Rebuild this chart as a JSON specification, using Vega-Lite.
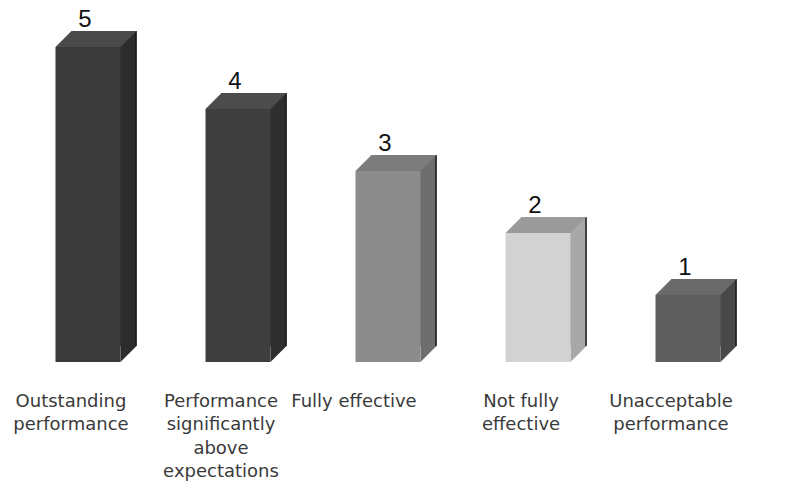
{
  "$schema": "https://vega.github.io/schema/vega-lite/v6.json",
  "autosize": {"type": "none"},
  "width": 750,
  "height": 315,
  "padding": {"left": 13, "top": 47, "right": 29, "bottom": 131},
  "background": "white",
  "config": {"view": {"stroke": null}},
  "data": {
    "values": [
      {"rating": "Outstanding\nperformance", "score": 5},
      {"rating": "Performance\nsignificantly\nabove\nexpectations", "score": 4},
      {"rating": "Fully effective", "score": 3},
      {"rating": "Not fully\neffective", "score": 2},
      {"rating": "Unacceptable\nperformance", "score": 1}
    ]
  },
  "encoding": {
    "x": {
      "field": "rating",
      "type": "nominal",
      "sort": null,
      "scale": {"paddingInner": 0.5667, "paddingOuter": 0.2833},
      "axis": {
        "title": null,
        "labelAngle": 0,
        "ticks": false,
        "domain": false,
        "labelExpr": "split(datum.value, '\\n')",
        "labelFont": "DejaVu Sans",
        "labelFontSize": 18,
        "labelLineHeight": 23.5,
        "labelColor": "#3a3a3a",
        "labelPadding": 30,
        "labelOffset": {"condition": {"test": "datum.value == 'Fully effective'", "value": -34}, "value": -17},
        "labelBaseline": "top",
        "labelLimit": 200
      }
    }
  },
  "layer": [
    {
      "mark": {"type": "bar", "xOffset": 16, "yOffset": -16, "y2Offset": -16},
      "encoding": {
        "y": {"field": "score", "type": "quantitative", "scale": {"domain": [-0.08, 5], "zero": false, "nice": false}, "axis": null},
        "y2": {"datum": -0.08},
        "color": {"field": "rating", "type": "nominal", "sort": null, "legend": null,
          "scale": {"range": ["#2c2c2c", "#2e2e2e", "#6e6e6e", "#a8a8a8", "#484848"]}}
      }
    },
    {
      "mark": {"type": "point", "filled": true, "size": 4, "opacity": 1, "strokeWidth": 0, "shape": "M32.5,-16L32.5,0L48.5,-16Z"},
      "encoding": {
        "y": {"datum": -0.08, "type": "quantitative"},
        "color": {"field": "rating", "type": "nominal", "sort": null, "legend": null,
          "scale": {"range": ["#2c2c2c", "#2e2e2e", "#6e6e6e", "#a8a8a8", "#484848"]}}
      }
    },
    {
      "mark": {"type": "rule", "xOffset": 48, "yOffset": -16, "y2Offset": -16, "color": "#1a1a1a", "strokeWidth": 1.5},
      "encoding": {
        "y": {"field": "score", "type": "quantitative"},
        "y2": {"datum": -0.08}
      }
    },
    {
      "mark": {"type": "bar"},
      "encoding": {
        "y": {"field": "score", "type": "quantitative"},
        "y2": {"datum": -0.08},
        "color": {"field": "rating", "type": "nominal", "sort": null, "legend": null,
          "scale": {"range": ["#3a3a3a", "#3e3e3e", "#8c8c8c", "#d2d2d2", "#5e5e5e"]}}
      }
    },
    {
      "mark": {"type": "point", "filled": true, "size": 4, "opacity": 1, "strokeWidth": 0, "shape": "M-32.5,0L32.5,0L48.5,-16L-16.5,-16Z"},
      "encoding": {
        "y": {"field": "score", "type": "quantitative"},
        "color": {"field": "rating", "type": "nominal", "sort": null, "legend": null,
          "scale": {"range": ["#4a4a4a", "#4c4c4c", "#7c7c7c", "#9a9a9a", "#6a6a6a"]}}
      }
    },
    {
      "mark": {"type": "text", "dx": -3, "dy": -20, "baseline": "alphabetic", "font": "Liberation Sans", "fontSize": 24, "color": "#111111"},
      "encoding": {
        "y": {"field": "score", "type": "quantitative"},
        "text": {"field": "score", "type": "quantitative"}
      }
    }
  ],
  "resolve": {"scale": {"color": "independent"}}
}
